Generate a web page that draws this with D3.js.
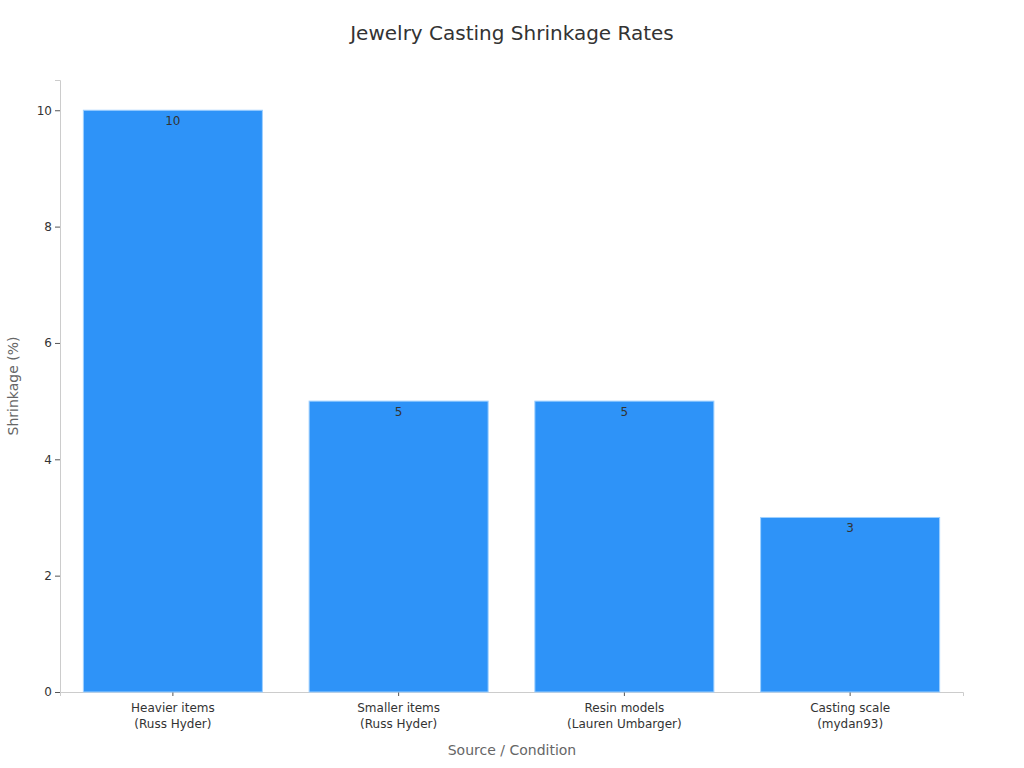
<!DOCTYPE html>
<html><head><meta charset="utf-8">
<script src="https://cdn.jsdelivr.net/npm/d3@7"></script>
<style>body{margin:0;background:#fff;font-family:"DejaVu Sans",sans-serif;}</style>
</head><body><svg id="c" width="1024" height="768"></svg>
<script>
const categories = [["Heavier items","(Russ Hyder)"],["Smaller items","(Russ Hyder)"],["Resin models","(Lauren Umbarger)"],["Casting scale","(mydan93)"]];
const values = [10,5,5,3];
const yTicks = [0,2,4,6,8,10];

const svg = d3.select("#c");
const m = {l:60,r:61,t:80,b:76};
const W = 1024, H = 768;
const x = d3.scaleBand().domain(categories.map((d,i)=>i)).range([m.l,W-m.r]).paddingInner(0.207).paddingOuter(0.1035);
const y = d3.scaleLinear().domain([0,10.52]).range([H-m.b,m.t]);

svg.append("text").attr("x",512).attr("y",40).attr("text-anchor","middle")
  .attr("font-size",20).attr("fill","#333").text("Jewelry Casting Shrinkage Rates");

const ya = svg.append("g").attr("transform",`translate(${m.l},0)`)
  .call(d3.axisLeft(y).tickValues(yTicks).tickSize(5).tickPadding(3));
ya.select(".domain").attr("stroke","#ccc");
ya.selectAll(".tick line").attr("stroke","#555");
ya.selectAll("text").attr("font-size",12).attr("fill","#333").attr("font-family","DejaVu Sans");

const xa = svg.append("g").attr("transform",`translate(0,${H-m.b})`)
  .call(d3.axisBottom(x).tickSizeOuter(0).tickSize(4).tickFormat(""));
xa.select(".domain").attr("stroke","#ccc");
xa.selectAll(".tick line").attr("stroke","#555");
xa.selectAll(".tick").each(function(d){
  const t = d3.select(this).append("text").attr("fill","#333").attr("font-size",12)
    .attr("text-anchor","middle").attr("font-family","DejaVu Sans");
  categories[d].forEach((s,j)=>t.append("tspan").attr("x",0).attr("y",20+j*16).text(s));
});

svg.selectAll("rect.bar").data(values).join("rect").attr("class","bar")
  .attr("x",(d,i)=>x(i)).attr("width",x.bandwidth())
  .attr("y",d=>y(d)).attr("height",d=>y(0)-y(d))
  .attr("fill","#2e93f8").attr("stroke","#9fd0ff").attr("stroke-width",1);

svg.selectAll("text.val").data(values).join("text").attr("class","val")
  .attr("x",(d,i)=>x(i)+x.bandwidth()/2).attr("y",d=>y(d)+15)
  .attr("text-anchor","middle").attr("font-size",12).attr("fill","#333").text(d=>d);

svg.append("text").attr("x",512).attr("y",755).attr("text-anchor","middle")
  .attr("font-size",14).attr("fill","#666").text("Source / Condition");
svg.append("text").attr("transform",`translate(18,${(m.t+H-m.b)/2}) rotate(-90)`)
  .attr("text-anchor","middle").attr("font-size",14).attr("fill","#666").text("Shrinkage (%)");
</script></body></html>
